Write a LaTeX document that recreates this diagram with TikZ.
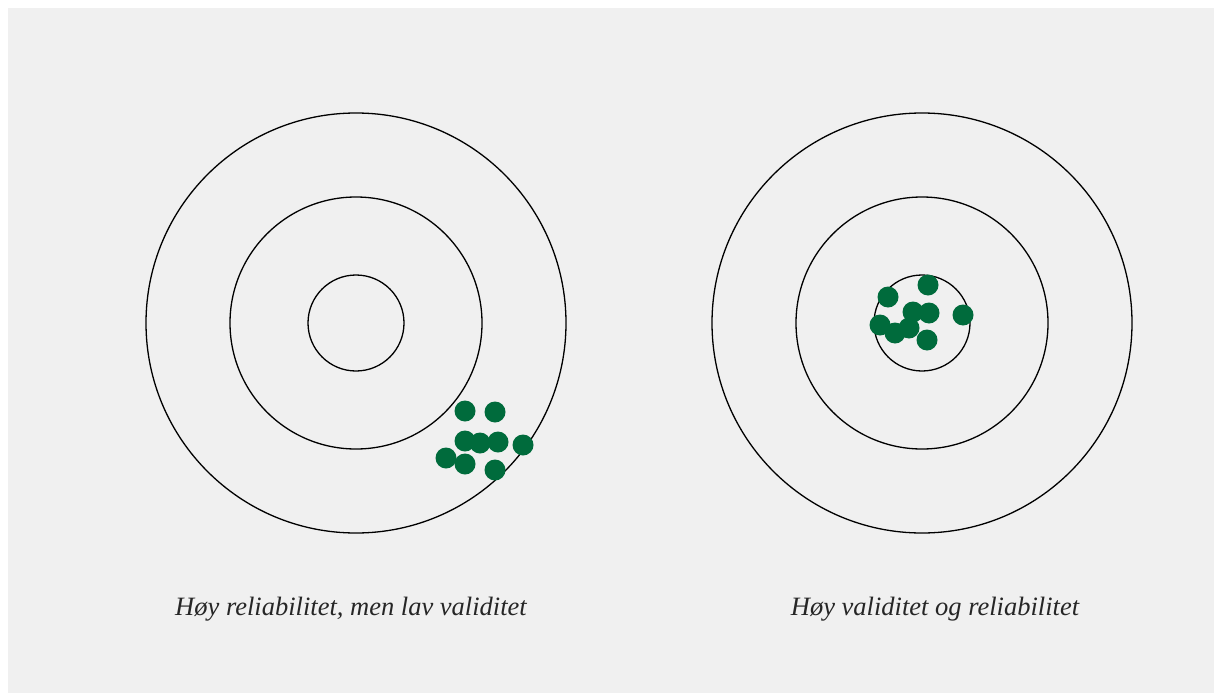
\documentclass[tikz,border=0pt]{standalone}
\usepackage{fontspec}
\setmainfont{Liberation Serif}
\definecolor{bg}{HTML}{F0F0F0}
\definecolor{dotg}{HTML}{006B3C}
\tikzset{
  ring/.style={draw=black, line width=1.3pt},
  shot/.style={fill=dotg, draw=none},
  captext/.style={font=\itshape\fontsize{26.5}{30}\selectfont, text=black!85, inner sep=0pt, anchor=base}
}
\begin{document}
\begin{tikzpicture}[x=1pt,y=-1pt]
\useasboundingbox (0,0) rectangle (1214,693);
\fill[white] (0,0) rectangle (1214,693);
\fill[bg] (8,8) rectangle (1214,693);
% left target
\coordinate (L) at (356,323);
\draw[ring] (L) circle[radius=210];
\draw[ring] (L) circle[radius=126];
\draw[ring] (L) circle[radius=48];
% right target
\coordinate (R) at (922,323);
\draw[ring] (R) circle[radius=210];
\draw[ring] (R) circle[radius=126];
\draw[ring] (R) circle[radius=48];
% left shots
\foreach \x/\y in {465/411,495/412,465/441,480/443,498/442,523/445,446/458,465/464,495/470}
  \fill[shot] (\x,\y) circle[radius=10.5];
% right shots
\foreach \x/\y in {928/285,888/297,913/312,929/313,963/315,880/325,895/333,909/328,927/340}
  \fill[shot] (\x,\y) circle[radius=10.5];
\node[captext] (capL) at (351,615) {Høy reliabilitet, men lav validitet};
\node[captext] (capR) at (935,615) {Høy validitet og reliabilitet};
\end{tikzpicture}
\end{document}
